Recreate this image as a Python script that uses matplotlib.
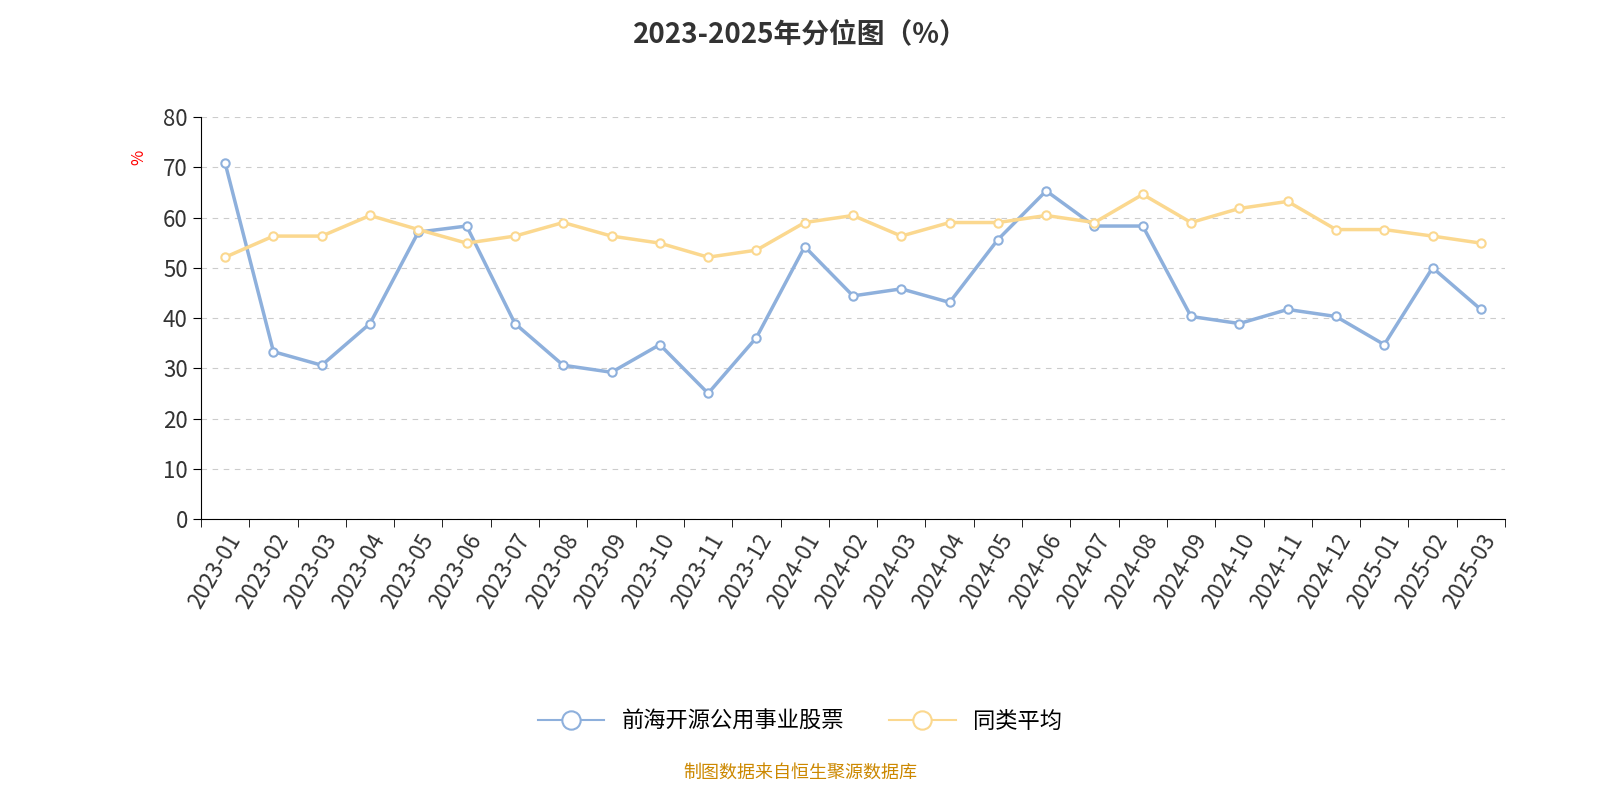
import matplotlib
matplotlib.use("Agg")
import matplotlib.pyplot as plt
plt.rcParams['font.family'] = ['Noto Sans CJK SC']

months = ["2023-01","2023-02","2023-03","2023-04","2023-05","2023-06","2023-07","2023-08","2023-09","2023-10","2023-11","2023-12",
          "2024-01","2024-02","2024-03","2024-04","2024-05","2024-06","2024-07","2024-08","2024-09","2024-10","2024-11","2024-12",
          "2025-01","2025-02","2025-03"]
fund = [70.8,33.3,30.6,38.9,57.1,58.3,38.9,30.6,29.2,34.7,25.0,36.1,54.2,44.4,45.8,43.1,55.6,65.3,58.3,58.3,40.3,38.9,41.7,40.3,34.7,50.0,41.7]
avg = [52.1,56.3,56.3,60.4,57.6,54.9,56.3,59.0,56.3,54.9,52.1,53.5,59.0,60.4,56.3,59.0,59.0,60.4,59.0,64.6,59.0,61.8,63.2,57.6,57.6,56.3,54.9]

fig = plt.figure(figsize=(16, 8), dpi=100)
ax = fig.add_axes([201/1600, 1-519/800, 1304/1600, 402/800])
x = list(range(len(months)))
ax.plot(x, fund, color='#8eb0dc', lw=2.5, marker='o', ms=6, mfc='white', mec='#8eb0dc', mew=1.5, label='前海开源公用事业股票')
ax.plot(x, avg, color='#fbd88f', lw=2.5, marker='o', ms=6, mfc='white', mec='#fbd88f', mew=1.5, label='同类平均')
ax.set_xlim(-0.5, len(months)-0.5)
ax.set_ylim(0, 80)
ax.set_yticks(range(0, 81, 10))
ax.set_xticks(x)
ax.set_xticklabels(months, rotation=60, ha='right', rotation_mode='anchor', fontsize=16, color='#333333')
ax.set_xticks([i-0.5 for i in range(len(months)+1)], minor=True)
ax.tick_params(axis='x', which='major', length=0, pad=8)
ax.tick_params(axis='x', which='minor', length=6)
ax.tick_params(axis='y', labelsize=16, labelcolor='#333333', length=6)
for s in ['top', 'right']:
    ax.spines[s].set_visible(False)
ax.yaxis.grid(True, ls=(0, (5, 5)), color='#cccccc')
ax.set_axisbelow(True)
ax.text(-0.048, 0.9, '%', transform=ax.transAxes, color='red', fontsize=12, rotation=90, ha='center', va='center')
fig.suptitle('2023-2025年分位图（%）', y=0.975, fontsize=20, fontweight='bold', color='#333333')
leg = ax.legend(loc='center', ncol=2, frameon=False, fontsize=16, markerscale=2.2, handlelength=3, columnspacing=2)
leg.set_bbox_to_anchor((0.5, 1-721/800), transform=fig.transFigure)
for h in leg.get_lines():
    h.set_linewidth(1.5)
fig.text(0.5, 1-773/800, '制图数据来自恒生聚源数据库', ha='center', va='center', fontsize=13, color='#cc8800')
fig.savefig('out.png')
